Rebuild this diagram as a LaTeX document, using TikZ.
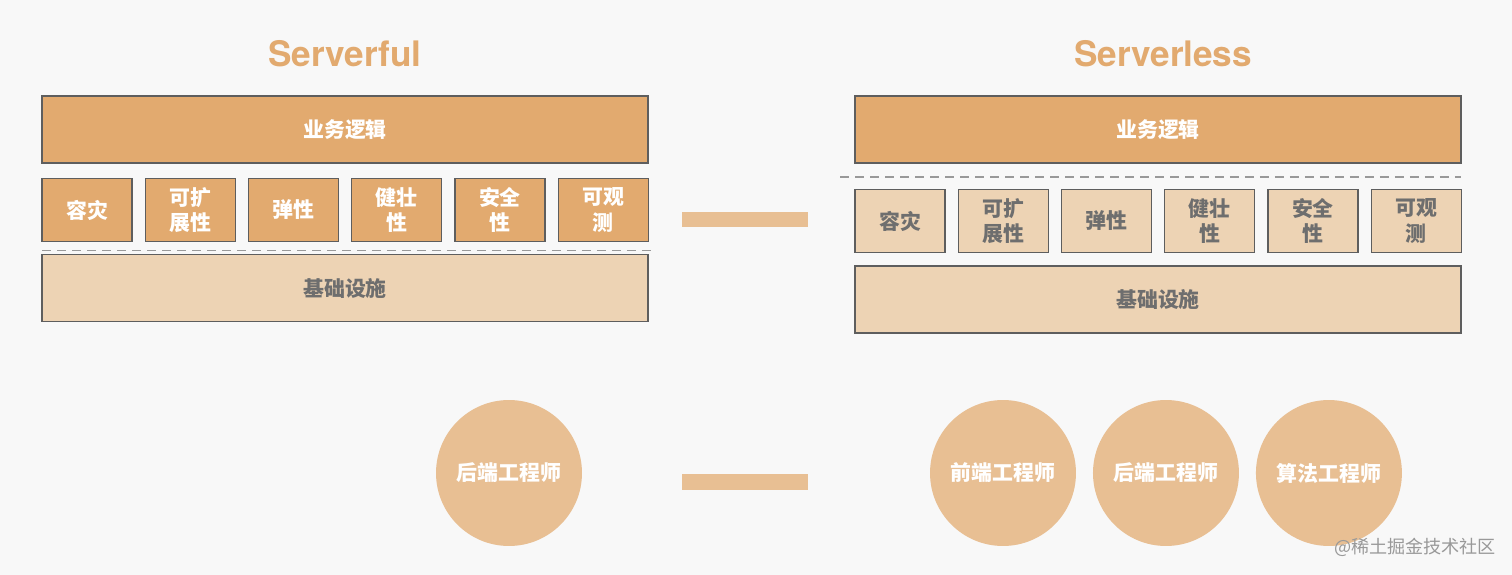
\documentclass[tikz,border=0pt]{standalone}
\usepackage{fontspec}
\setmainfont{TeX Gyre Heros}
\newfontfamily\cjk{Noto Sans CJK SC}
\usepackage{tikz}
\usetikzlibrary{positioning}
\definecolor{bgcol}{HTML}{F8F8F8}
\definecolor{deep}{HTML}{E2AA6F}
\definecolor{pale}{HTML}{EDD3B4}
\definecolor{ball}{HTML}{E8BF93}
\definecolor{edgegray}{HTML}{5E5E5E}
\definecolor{txtgray}{HTML}{6E6E6E}

\begin{document}
\begin{tikzpicture}[x=0.02cm, y=-0.02cm,
    every node/.style={inner sep=0pt, outer sep=0pt, align=center,
                       font=\cjk\bfseries\fontsize{11.9}{14.6}\selectfont},
    headline/.style={text=deep, font=\bfseries\fontsize{20}{24}\selectfont},
    wide/.style={draw=edgegray, line width=0.7pt, minimum width=12.12cm, minimum height=1.34cm},
    cell/.style={draw=edgegray, line width=0.7pt, minimum width=1.8cm, minimum height=1.26cm},
    deepbox/.style={fill=deep, text=white},
    palebox/.style={fill=pale, text=txtgray},
    person/.style={circle, fill=ball, text=white, minimum size=2.92cm},
    barbox/.style={fill=ball, minimum width=2.52cm, minimum height=0.31cm},
    dashsep/.style={draw=gray!80, line width=0.6pt, dash pattern=on 1.8mm off 1.2mm},
    node distance=2.65mm]
    \fill[bgcol] (0,0) rectangle (1512,575);

    % Serverful
    \node (titleL)[headline] at (345,54) {Serverful};
    \node (bizL)[wide, deepbox] at (345,129.5) {业务逻辑};
    \node (f1L)[cell, deepbox] at (87,210) {容灾};
    \node (f2L)[cell, deepbox, right=of f1L] {可扩\\展性};
    \node (f3L)[cell, deepbox, right=of f2L] {弹性};
    \node (f4L)[cell, deepbox, right=of f3L] {健壮\\性};
    \node (f5L)[cell, deepbox, right=of f4L] {安全\\性};
    \node (f6L)[cell, deepbox, right=of f5L] {可观\\测};
    \node (infraL)[wide, palebox] at (345,288) {基础设施};
    \draw[dashsep] ([yshift=0.8mm]infraL.north west) -- ([xshift=1.4mm,yshift=0.8mm]infraL.north east);

    % Serverless
    \node (titleR)[headline] at (1163,54) {Serverless};
    \node (bizR)[wide, deepbox] at (1158,129.5) {业务逻辑};
    \draw[dashsep] ([xshift=-3mm,yshift=-2.8mm]bizR.south west) -- ([yshift=-2.8mm]bizR.south east);
    \node (f1R)[cell, palebox] at (900,221) {容灾};
    \node (f2R)[cell, palebox, right=of f1R] {可扩\\展性};
    \node (f3R)[cell, palebox, right=of f2R] {弹性};
    \node (f4R)[cell, palebox, right=of f3R] {健壮\\性};
    \node (f5R)[cell, palebox, right=of f4R] {安全\\性};
    \node (f6R)[cell, palebox, right=of f5R] {可观\\测};
    \node (infraR)[wide, palebox] at (1158,299.5) {基础设施};

    \node (barTop)[barbox] at (745,219.5) {};
    \node (barBot)[barbox] at (745,482) {};

    % engineers
    \node (engL)[person] at (509,473) {后端工程师};
    \node (engA)[person] at (1003,473) {前端工程师};
    \node (engB)[person, right=3.4mm of engA] {后端工程师};
    \node (engC)[person, right=3.4mm of engB] {算法工程师};

    \node (mark)[text=gray!80, font=\cjk\fontsize{10.3}{12}\selectfont] at (1415,547) {@稀土掘金技术社区};
  \end{tikzpicture}
\end{document}
